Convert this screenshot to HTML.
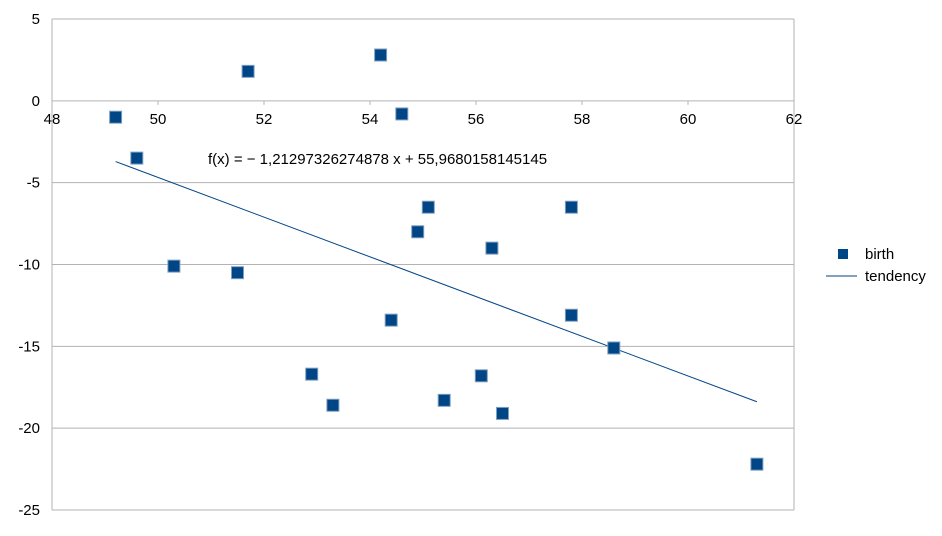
<!DOCTYPE html>
<html><head><meta charset="utf-8"><style>
body{margin:0;background:#fff;font-family:"Liberation Sans",sans-serif}
svg text{font-family:"Liberation Sans",sans-serif;font-size:15px;fill:#000}
</style></head><body>
<svg id="chart" width="942" height="531" xmlns="http://www.w3.org/2000/svg"></svg>
<script>
const xs=[49.2,49.6,50.3,51.5,51.7,52.9,53.3,54.2,54.4,54.6,54.9,55.1,55.4,56.1,56.3,56.5,57.8,57.8,58.6,61.3];
const ys=[-1.0,-3.5,-10.1,-10.5,1.8,-16.7,-18.6,2.8,-13.4,-0.8,-8.0,-6.5,-18.3,-16.8,-9.0,-19.1,-6.5,-13.1,-15.1,-22.2];
const xTicks=[48,50,52,54,56,58,60,62];
const yTicks=[5,0,-5,-10,-15,-20,-25];
const slope=-1.21297326274878, intercept=55.9680158145145;
const L=52,R=794,T=19,B=510;
const X=v=>L+(v-48)/(62-48)*(R-L);
const Y=v=>T+(5-v)/(5+25)*(B-T);
const svg=document.getElementById('chart');
const NS='http://www.w3.org/2000/svg';
function mk(tag,attrs,parent){const e=document.createElementNS(NS,tag);for(const k in attrs)e.setAttribute(k,attrs[k]);(parent||svg).appendChild(e);return e;}
yTicks.forEach(t=>{
 const g=mk('line',{x1:L,x2:R,y1:Y(t),y2:Y(t),stroke:'#b3b3b3','stroke-width':1});
 
 
 const tx=mk('text',{x:40,y:Y(t)+5,'text-anchor':'end'});tx.textContent=t;
 
 
});
const vl=mk('line',{x1:R,x2:R,y1:T,y2:B,stroke:'#b3b3b3'});


const vl2=mk('line',{x1:L,x2:L,y1:T,y2:B,stroke:'#b3b3b3'});


xTicks.forEach(t=>{
 const tk=mk('line',{x1:X(t),x2:X(t),y1:Y(0),y2:Y(0)+4,stroke:'#b3b3b3'});
 
 
 const tx=mk('text',{x:X(t),y:Y(0)+23,'text-anchor':'middle'});tx.textContent=t;
 
 
});
const x0=Math.min(...xs),x1=Math.max(...xs);
const tl=mk('line',{x1:X(x0),y1:Y(slope*x0+intercept),x2:X(x1),y2:Y(slope*x1+intercept),stroke:'#004586','stroke-width':1});


const eq=mk('text',{x:208,y:164});eq.textContent='f(x) = − 1,21297326274878 x + 55,9680158145145';


xs.forEach((v,i)=>{
 const r=mk('rect',{x:X(v)-6,y:Y(ys[i])-6,width:12,height:12,fill:'#004586',stroke:'#7f9fc0','stroke-width':1});
 
 
});
const lm=mk('rect',{x:838,y:249,width:10,height:10,fill:'#004586'});


const lt=mk('text',{x:865,y:259});lt.textContent='birth';


const ll=mk('line',{x1:826,x2:857,y1:276,y2:276,stroke:'#004586'});


const lt2=mk('text',{x:865,y:281});lt2.textContent='tendency';


</script>
</body></html>
